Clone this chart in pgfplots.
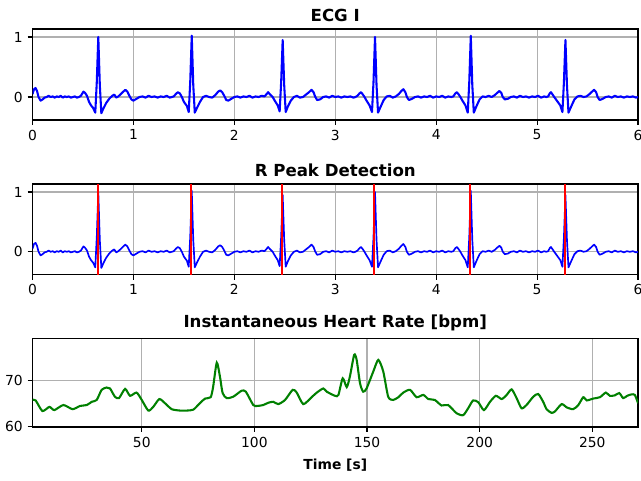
\documentclass[border=0pt]{standalone}
\usepackage{fontspec}
\setmainfont{DejaVu Sans}
\usepackage{pgfplots}
\usepackage{pgfplotstable}
\pgfplotsset{compat=1.18}
\definecolor{mplgreen}{rgb}{0,0.5,0}
\definecolor{gridgray}{HTML}{B0B0B0}

\pgfplotstableread{
t v
0 0.05
0.015 0.13
0.03 0.15
0.045 0.1
0.06 0.0
0.08 -0.06
0.1 -0.04
0.12 -0.01
0.14 0.0
0.16 0.02
0.18 0.0
0.2 0.01
0.22 -0.01
0.24 0.01
0.26 0.0
0.28 0.02
0.3 -0.01
0.32 0.01
0.34 0.0
0.36 0.01
0.38 -0.01
0.4 0.0
0.42 0.01
0.44 -0.01
0.46 0.0
0.48 0.02
0.49 0.05
0.505 0.09
0.52 0.07
0.54 0.02
0.56 -0.08
0.58 -0.14
0.60 -0.18
0.622 -0.26
0.637 0.25
0.652 1.0
0.667 0.2
0.682 -0.27
0.70 -0.2
0.73 -0.1
0.76 -0.03
0.79 0.02
0.81 0.04
0.83 -0.01
0.85 0.01
0.87 0.04
0.90 0.09
0.92 0.12
0.94 0.09
0.96 0.02
0.98 -0.04
1.0 -0.06
1.03 -0.03
1.06 0.0
1.09 0.01
1.12 -0.01
1.15 0.02
1.18 0.0
1.21 0.01
1.24 -0.01
1.27 0.01
1.30 0.0
1.33 0.02
1.36 -0.01
1.38 0.0
1.40 0.01
1.42 0.05
1.44 0.08
1.46 0.06
1.48 0.0
1.50 -0.08
1.53 -0.15
1.548 -0.25
1.563 0.25
1.578 1.02
1.593 0.2
1.608 -0.26
1.63 -0.18
1.66 -0.08
1.69 0.0
1.72 0.02
1.75 0.0
1.78 -0.01
1.81 0.03
1.84 0.09
1.86 0.11
1.88 0.08
1.90 0.02
1.92 -0.05
1.94 -0.06
1.97 -0.03
2.0 0.0
2.03 0.01
2.06 -0.01
2.09 0.01
2.12 0.0
2.15 0.02
2.18 -0.01
2.21 0.01
2.24 0.0
2.27 0.02
2.30 0.01
2.32 0.05
2.335 0.08
2.35 0.05
2.38 0.0
2.40 -0.06
2.43 -0.14
2.449 -0.24
2.464 0.25
2.479 0.95
2.494 0.2
2.509 -0.25
2.53 -0.16
2.56 -0.06
2.59 0.0
2.62 0.02
2.65 -0.01
2.68 0.0
2.71 0.04
2.74 0.08
2.765 0.12
2.785 0.08
2.80 0.01
2.82 -0.05
2.85 -0.04
2.88 0.0
2.91 0.01
2.94 -0.01
2.97 0.02
3.0 0.0
3.03 0.01
3.06 -0.01
3.09 0.01
3.12 0.0
3.15 0.01
3.18 -0.01
3.2 0.0
3.22 0.02
3.24 0.06
3.255 0.08
3.27 0.05
3.29 0.0
3.31 -0.06
3.34 -0.14
3.364 -0.25
3.379 0.25
3.394 1.0
3.409 0.2
3.424 -0.26
3.45 -0.16
3.48 -0.05
3.51 0.01
3.54 0.02
3.57 -0.01
3.60 0.01
3.63 0.05
3.655 0.1
3.675 0.13
3.695 0.08
3.71 0.0
3.73 -0.05
3.76 -0.03
3.79 0.0
3.82 0.01
3.85 -0.01
3.88 0.01
3.91 0.0
3.94 0.02
3.97 -0.01
4.0 0.01
4.03 0.0
4.06 0.02
4.09 -0.01
4.12 0.01
4.15 0.0
4.17 0.01
4.19 0.06
4.205 0.08
4.22 0.05
4.24 0.0
4.26 -0.06
4.29 -0.14
4.313 -0.26
4.328 0.25
4.343 1.02
4.358 0.2
4.373 -0.26
4.40 -0.15
4.43 -0.04
4.46 0.01
4.49 0.0
4.52 0.02
4.55 0.0
4.58 0.03
4.605 0.07
4.627 0.1
4.645 0.07
4.66 0.0
4.68 -0.04
4.71 -0.03
4.74 0.0
4.77 0.01
4.80 -0.01
4.83 0.02
4.86 0.0
4.89 0.01
4.92 -0.01
4.95 0.01
4.98 0.0
5.01 0.02
5.04 -0.01
5.07 0.01
5.09 0.0
5.11 0.01
5.125 0.06
5.137 0.08
5.15 0.05
5.17 0.0
5.20 -0.07
5.23 -0.14
5.251 -0.25
5.266 0.25
5.281 0.95
5.296 0.2
5.311 -0.26
5.34 -0.15
5.37 -0.04
5.40 0.01
5.43 0.02
5.46 0.0
5.49 0.01
5.52 0.05
5.545 0.09
5.565 0.12
5.585 0.08
5.60 0.0
5.62 -0.05
5.65 -0.03
5.68 0.0
5.71 0.01
5.74 -0.01
5.77 0.02
5.80 0.0
5.83 0.01
5.86 -0.01
5.89 0.01
5.92 0.0
5.95 0.01
5.98 -0.01
6.0 0.0
}\ecgtable

\pgfplotstableread{
t hr
1.5 65.8
2.9 65.7
5.9 63.4
9.0 64.3
11.2 63.6
15.2 64.7
19.3 63.8
22.6 64.5
25.6 64.7
27.8 65.4
30.0 65.8
32.2 68.0
34.4 68.5
35.9 68.3
38.1 66.5
39.9 66.2
42.6 68.2
44.8 66.7
47.7 67.4
50.0 65.8
52.9 63.5
55.1 64.3
57.8 66.0
60.3 65.1
63.3 63.8
67.0 63.5
70.0 63.5
72.9 63.7
75.8 65.1
78.1 66.1
80.6 66.4
81.7 68.7
83.3 73.9
84.7 70.9
85.9 67.3
87.7 66.2
90.6 66.5
94.3 67.8
96.2 67.6
99.5 64.7
101.3 64.5
103.9 64.7
106.2 65.2
108.4 65.4
110.6 64.9
113.6 65.8
117.0 68.0
118.8 67.4
121.7 64.9
125.4 66.4
127.7 67.4
130.6 68.3
132.1 67.6
135.8 66.7
137.3 66.9
139.2 70.5
141.0 68.6
142.4 70.9
144.3 75.6
145.4 74.5
146.9 69.4
148.3 67.6
149.8 68.3
152.8 72.0
155.0 74.5
157.2 72.0
159.4 66.5
161.6 65.8
163.9 66.4
166.1 67.4
169.1 68.0
172.0 66.4
175.0 66.9
177.2 66.0
180.1 65.8
183.1 64.6
186.0 64.7
189.8 62.9
192.7 62.5
194.9 64.0
197.1 65.7
199.4 65.3
201.9 63.6
204.6 65.4
207.2 66.7
209.8 66.0
212.0 66.9
214.2 68.1
216.4 66.2
218.6 64.0
220.8 64.7
223.8 66.5
226.0 67.1
228.2 65.4
229.7 63.8
231.9 63.0
233.4 63.3
236.4 64.9
238.6 64.2
241.5 63.8
243.8 64.7
246.0 66.4
247.5 65.7
250.4 66.1
253.4 66.4
256.0 67.4
257.8 66.7
260.0 66.8
262.0 67.3
263.7 66.2
265.5 66.7
267.3 67.0
268.9 66.9
270.3 65.1
}\hrtable

\pgfplotsset{
  mplstyle/.style={
    scale only axis,
    width=437.6pt,
    axis line style={black, line width=0.8pt},
    grid=major,
    major grid style={gridgray, line width=0.8pt},
    tick style={black, line width=0.8pt},
    tick align=outside,
    major tick length=3.5pt,
    xtick pos=bottom, ytick pos=left,
    tick label style={font=\fontsize{10}{12}\selectfont},
    /pgf/number format/assume math mode=true,
    title style={font=\bfseries\fontsize{12}{14}\selectfont, yshift=-4pt},
    anchor=north west,
  }
}

\begin{document}
\begin{tikzpicture}

\begin{axis}[mplstyle, at={(23.49pt,-20.96pt)}, height=65.77pt,
  xmin=0, xmax=6, ymin=-0.383, ymax=1.133,
  xtick={0,1,2,3,4,5,6}, ytick={0,1},
  title={ECG I}]
\addplot[blue, line width=1.5pt, line join=round] table[x=t,y=v] {\ecgtable};
\end{axis}

\begin{axis}[mplstyle, at={(23.49pt,-132.98pt)}, height=65.55pt,
  xmin=0, xmax=6, ymin=-0.383, ymax=1.133,
  xtick={0,1,2,3,4,5,6}, ytick={0,1},
  title={R Peak Detection}]
\addplot[blue, line width=1.2pt, line join=round] table[x=t,y=v] {\ecgtable};
\addplot[red, line width=1.5pt, unbounded coords=jump] coordinates {
(0.646,-1) (0.646,2) (0.646,nan)
(1.572,-1) (1.572,2) (1.572,nan)
(2.473,-1) (2.473,2) (2.473,nan)
(3.388,-1) (3.388,2) (3.388,nan)
(4.337,-1) (4.337,2) (4.337,nan)
(5.275,-1) (5.275,2)
};
\end{axis}

\begin{axis}[mplstyle, at={(23.49pt,-244.78pt)}, height=63.81pt,
  xmin=1.5, xmax=270.3, ymin=59.93, ymax=79.1,
  xtick={50,100,150,200,250}, ytick={60,70},
  title={Instantaneous Heart Rate [bpm]},
  xlabel={\bfseries Time [s]},
  xlabel style={font=\bfseries\fontsize{10}{12}\selectfont, yshift=-1.5pt}]
\addplot[mplgreen, line width=1.5pt, smooth, tension=0.4] table[x=t,y=hr] {\hrtable};
\end{axis}

\pgfresetboundingbox
\path[use as bounding box] (0,0) rectangle (463.25pt,-347.62pt);
\end{tikzpicture}
\end{document}
